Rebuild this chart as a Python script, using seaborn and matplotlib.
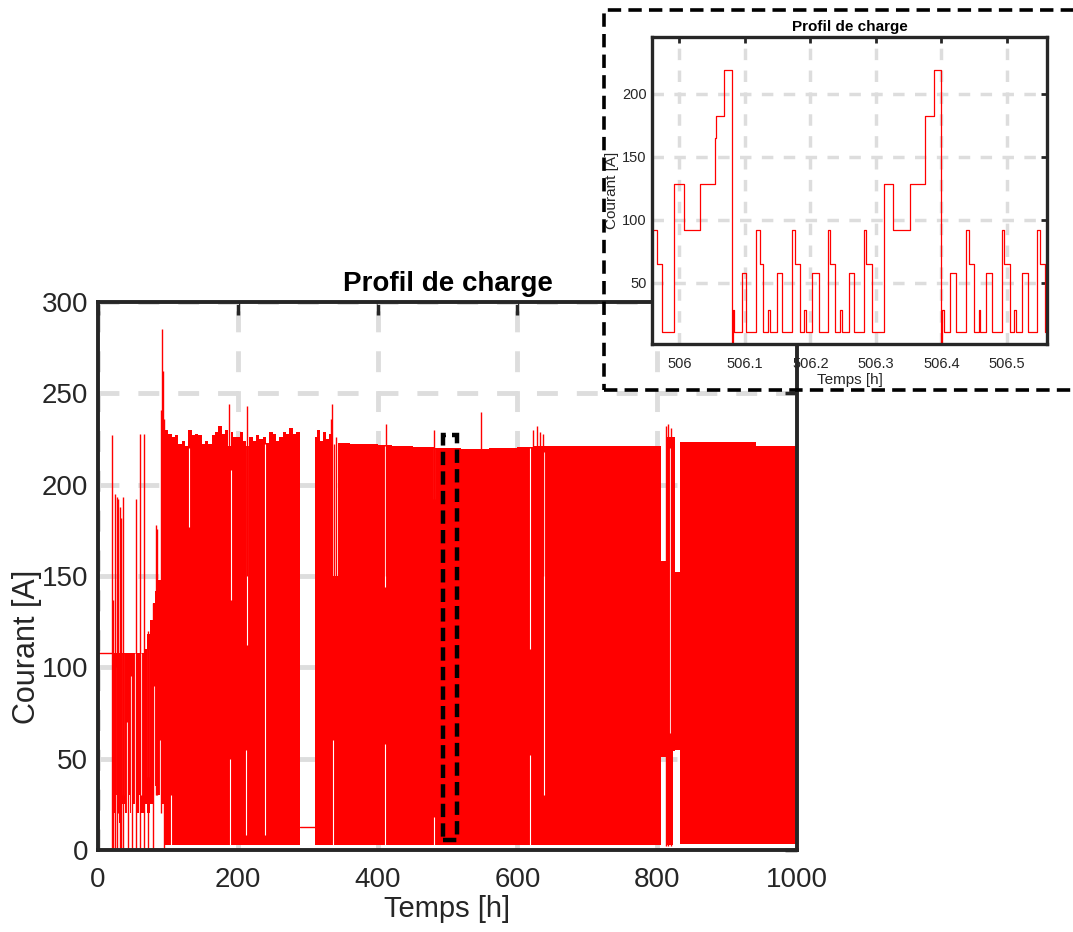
import matplotlib.pyplot as plt
import seaborn as sns
from matplotlib.patches import Rectangle
from matplotlib.ticker import FormatStrFormatter

# ---- data ----
# constant current at the start of the record
start_t = [0, 0, 20.5]
start_v = [0, 108, 108]

# envelope of the dense cycling band (value held until next time)
band_t = [22, 26, 30, 34, 38, 42, 46, 50, 54, 58, 62, 66, 70, 74, 78, 82, 86, 90, 94,
          96.5, 100.6, 105.4, 110.2, 114.9, 119.7, 124.5, 129.2, 134, 138.8,
          143.6, 148.3, 153.1, 157.9, 162.6, 167.4, 172.2, 177, 181.7, 186.5,
          189.8, 193.6, 198.4, 203.2, 208, 211.8, 216.5, 221.3, 226.1, 230.8,
          235.6, 240.4, 245.2, 250, 254.7, 259.5, 264.2, 269, 273.8, 278.6, 283.3,
          289.5, 310.5, 314, 318, 322, 326, 330, 335.5,
          343.5, 360, 380, 400, 420, 450, 480, 520, 560, 600, 622, 640, 700, 760,
          805.5, 812, 822, 825.5, 832, 941, 1000]
band_hi = [108, 108, 108, 108, 108, 108, 108, 108, 108, 108, 108, 110, 118, 126, 135, 142, 148, 152, 158,
           230, 228, 226, 227, 222, 224, 221, 230, 227, 228,
           227, 222, 224, 222, 227, 229, 232, 228, 230, 221,
           229, 226, 226, 229, 224, 221, 226, 224, 227, 225,
           226, 223, 229, 228, 224, 226, 229, 228, 231, 228, 229,
           12.5, 226, 230, 224, 229, 225, 228, 150,
           223, 222.5, 222, 221.5, 221, 220.5, 220, 219.5, 220, 220.5, 221, 221, 221, 221,
           158, 226, 226, 152, 223.5, 221, 221]
band_lo = [20, 30, 15, 25, 20, 30, 20, 25, 20, 30, 20, 25, 20, 25, 30, 35, 30, 25, 20,
           2.5, 2.5, 2.5, 2.5, 2.5, 2.5, 2.5, 2.5, 2.5, 2.5,
           2.5, 2.5, 2.5, 2.5, 2.5, 2.5, 2.5, 2.5, 2.5, 2.5,
           2.5, 2.5, 2.5, 2.5, 2.5, 2.5, 2.5, 2.5, 2.5, 2.5,
           2.5, 2.5, 2.5, 2.5, 2.5, 2.5, 2.5, 2.5, 2.5, 2.5, 2.5,
           12.5, 2.5, 2.5, 2.5, 2.5, 2.5, 2.5, 2.5,
           2.5, 2.5, 2.5, 2.5, 2.5, 2.5, 2.5, 2.5, 2.5, 2.5, 2.5, 2.5, 2.5, 2.5,
           51, 2.5, 54, 55, 3.5, 3.5, 3.5]

# rest period between the two blocks
rest_t = [289.5, 310.5]
rest_v = [12.5, 12.5]

# isolated peaks standing out of the band
spike_t = [20.5, 21.2, 24.5, 26.5, 28.5, 31, 33, 36, 43, 49, 54.8, 59.6, 65.3, 72, 78,
           83.5, 84.5, 90.5, 92.2, 93, 95, 187.6, 212.7, 333, 334.4, 338, 341,
           411.5, 480.5, 548, 623, 628, 633, 636, 813, 816, 820]
spike_lo = [1, 1, 1, 1, 20, 1, 1, 1, 1, 1, 1, 1, 1, 1, 1,
            30, 30, 20, 60, 60, 1, 150, 150, 150, 150, 100, 100,
            150, 150, 150, 150, 150, 150, 150, 2, 2, 2]
spike_hi = [227, 137, 195, 193, 192, 188, 182, 193, 108, 108, 192, 228, 228, 120, 135,
            178, 176, 241, 285, 262, 236, 244, 243, 236, 244, 222, 226,
            233, 230, 240, 230, 232, 229, 228, 232, 233, 231]

# holes (no current) inside the band
slit_t = [27.5, 35.5, 41, 46.5, 52.5, 61, 71, 80, 88,
          104, 130.7, 188.5, 190, 212, 213, 239.4, 336.5, 411, 411,
          480, 480, 618, 618, 638, 818.5]
slit_lo = [20, 30, 20, 20, 20, 30, 40, 25, 25,
           2, 177, 1, 137, 8, 112, 8, 2, 144, 1,
           192, 1, 110, 1, 30, 64]
slit_hi = [100, 108, 70, 95, 108, 108, 110, 90, 60,
           30, 220, 50, 208, 55, 222, 222, 60, 221, 58,
           220, 18, 220, 52, 218, 220]

# zoom on one hour of cycling (step profile)
zoom_t = [505.9592, 505.9653, 505.9729, 505.9913, 506.0071, 506.0311, 506.0541, 506.0556,
          506.0684, 506.0796, 506.0812, 506.0837, 506.0949, 506.1021, 506.1169, 506.1225,
          506.1271, 506.1358, 506.1378, 506.1496, 506.1572, 506.1725, 506.1766, 506.1843,
          506.1904, 506.1935, 506.2032, 506.2124, 506.2266, 506.2307, 506.2379, 506.2450,
          506.2476, 506.2583, 506.2670, 506.2813, 506.2853, 506.2940, 506.3119, 506.3267,
          506.3517, 506.3757, 506.3890, 506.3997, 506.4012, 506.4038, 506.4140, 506.4232,
          506.4385, 506.4426, 506.4497, 506.4569, 506.4594, 506.4686, 506.4778, 506.4921,
          506.4962, 506.5043, 506.5110, 506.5135, 506.5237, 506.5324, 506.5462, 506.5503,
          506.5584, 506.5615]
zoom_v = [92, 65, 11, 128, 92, 128, 165, 182, 219, 2,
          28, 11, 58, 11, 92, 65, 11, 28, 11, 58,
          11, 92, 65, 11, 28, 11, 58, 11, 92, 65,
          11, 28, 11, 58, 11, 92, 65, 11, 128, 92,
          128, 182, 219, 2, 28, 11, 58, 11, 92, 65,
          11, 28, 11, 58, 11, 92, 65, 11, 28, 11,
          58, 11, 92, 65, 11, 11]

# ---- style ----
sns.set_theme(style="white")
plt.rcParams['font.family'] = ['Liberation Sans', 'DejaVu Sans']
dark = '#262626'
grid_kw = dict(color='#dddddd', linestyle=(0, (4.3, 3.9)), linewidth=3.5)

W, H = 1073, 932
fig = plt.figure(figsize=(W / 100, H / 100), dpi=100)

# ---- main chart ----
ax = fig.add_axes([98 / W, 1 - 850 / H, 699 / W, 548 / H])
ax.set_axisbelow(True)
ax.fill_between(band_t, band_lo, band_hi, step='post', color='red', lw=0)
ax.vlines(slit_t, slit_lo, slit_hi, color='white', lw=0.8)
ax.vlines(spike_t, spike_lo, spike_hi, color='red', lw=1.0)
sns.lineplot(x=start_t, y=start_v, color='red', lw=1.0, estimator=None, sort=False, ax=ax)
sns.lineplot(x=rest_t, y=rest_v, color='red', lw=1.0, estimator=None, sort=False, ax=ax)
ax.add_patch(Rectangle((494, 5.5), 19.3, 221.5, fill=False, ec='black', lw=3.2,
                       ls=(0, (3, 1.4)), zorder=5))

ax.set_xlim(0, 1000)
ax.set_ylim(0, 300)
ax.set_xticks(range(0, 1001, 200))
ax.set_yticks(range(0, 301, 50))
ax.grid(True, **grid_kw)
ax.tick_params(direction='in', length=9, width=2.5, color=dark, labelsize=20,
               top=True, right=True, labelcolor=dark)
ax.tick_params(axis='x', pad=12)
ax.tick_params(axis='y', pad=7)
for s in ax.spines.values():
    s.set_linewidth(2.8)
    s.set_color(dark)
ax.set_xlabel('Temps [h]', fontsize=21, color=dark, labelpad=2)
ax.set_ylabel('Courant [A]', fontsize=22, color=dark)
ax.yaxis.set_label_coords(-0.08, 0.37)
ax.set_title('Profil de charge', fontsize=20, fontweight='bold', color='black', pad=8)

# ---- inset ----
axin = fig.add_axes([652 / W, 1 - 344 / H, 395 / W, 307 / H], zorder=3)
axin.set_facecolor('white')
axin.set_axisbelow(True)
sns.lineplot(x=zoom_t, y=zoom_v, color='red', lw=0.9, drawstyle='steps-post',
             estimator=None, sort=False, ax=axin)
axin.set_xlim(505.958, 506.5615)
axin.set_ylim(1.3, 245)
axin.set_xticks([506, 506.1, 506.2, 506.3, 506.4, 506.5])
axin.set_yticks([50, 100, 150, 200])
axin.xaxis.set_major_formatter(FormatStrFormatter('%g'))
axin.grid(True, color='#dddddd', linestyle=(0, (3.3, 3)), linewidth=2.5)
axin.tick_params(direction='in', length=4, width=2, color=dark, labelsize=10.5,
                 top=True, right=True, labelcolor=dark, pad=4)
axin.tick_params(axis='x', pad=9)
for s in axin.spines.values():
    s.set_linewidth(2.4)
    s.set_color(dark)
axin.set_xlabel('Temps [h]', fontsize=11, color=dark, labelpad=2)
axin.set_ylabel('Courant [A]', fontsize=11, color=dark, labelpad=2)
axin.set_title('Profil de charge', fontsize=11, fontweight='bold', color='black', pad=4)

# dashed frame around the inset
fig.add_artist(Rectangle((604 / W, 1 - 389.5 / H), (1085 - 604) / W, 380 / H,
                         transform=fig.transFigure, fill=False, ec='black', lw=2.6,
                         ls=(0, (3.7, 2.0)), clip_on=False, zorder=10))

fig.savefig('out.png', dpi=100)
